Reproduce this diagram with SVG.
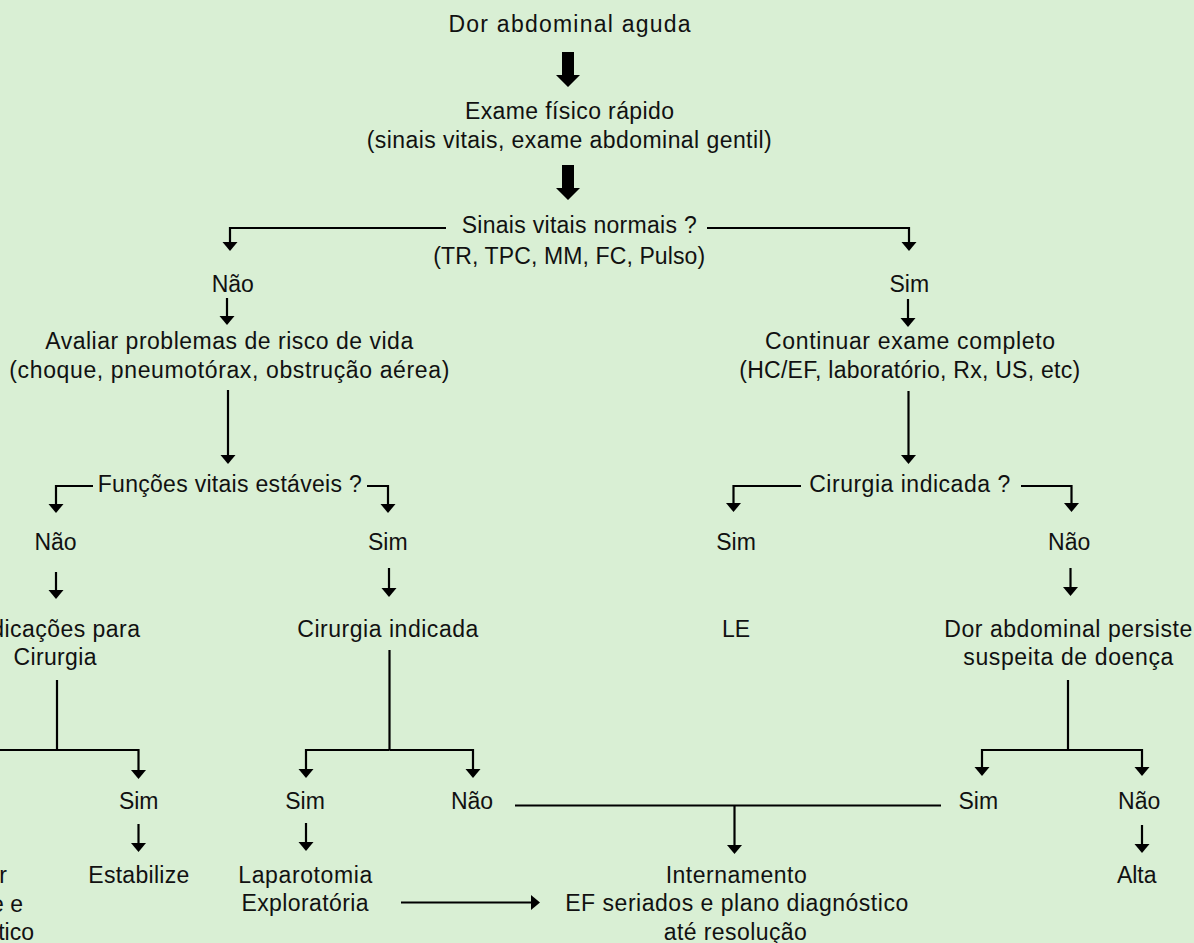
<svg xmlns="http://www.w3.org/2000/svg" width="1194" height="943" viewBox="0 0 1194 943">
<style>
text{font-family:"Liberation Sans",Arial,sans-serif;font-size:23px;fill:#111;text-anchor:middle}
.c path{fill:none;stroke:#000;stroke-width:2.2}
.a{marker-end:url(#ah)}
.big{fill:#000}
</style>
<defs>
<marker id="ah" markerUnits="userSpaceOnUse" markerWidth="10" markerHeight="16" viewBox="0 0 10 16" refX="6" refY="8" orient="auto">
<path d="M0,0.5 L9,8 L0,15.5 z" fill="#000"/>
</marker>
</defs>
<rect width="1194" height="943" fill="#d9efd4"/>
<g id="connectors" class="c">
<polygon class="big" points="562,52 574,52 574,75 580,75 568,87 556,75 562,75"/>
<polygon class="big" points="562,165 574,165 574,188 580,188 568,200 556,188 562,188"/>
<path class="a" d="M446,228 H230 V248"/>
<path class="a" d="M707,228 H909 V248"/>
<path class="a" d="M227,298 V322"/>
<path class="a" d="M228,390 V461"/>
<path class="a" d="M93,486 H56 V510"/>
<path class="a" d="M367,486 H388 V510"/>
<path class="a" d="M56,572 V596"/>
<path class="a" d="M389,568 V594"/>
<path d="M57,680 V750"/>
<path class="a" d="M0,750 H138.5 V776"/>
<path class="a" d="M138.5,824 V849"/>
<path d="M389.5,650 V750"/>
<path class="a" d="M389.5,750 H306 V775"/>
<path class="a" d="M389.5,750 H473 V775"/>
<path class="a" d="M306,823 V848"/>
<path d="M515,805.5 H941"/>
<path class="a" d="M734.5,805.5 V851"/>
<path class="a" d="M401,902.5 H537"/>
<path class="a" d="M908,299 V324"/>
<path class="a" d="M908.5,391 V461"/>
<path class="a" d="M801,486 H733.5 V509"/>
<path class="a" d="M1021,486 H1071.5 V509"/>
<path class="a" d="M1070.5,568 V593"/>
<path d="M1068,680 V750"/>
<path class="a" d="M1068,750 H982 V773"/>
<path class="a" d="M1068,750 H1142 V773"/>
<path class="a" d="M1142,825 V850"/>
</g>
<g id="n-dor"><text x="569.5" y="32" textLength="242" lengthAdjust="spacing">Dor abdominal aguda</text></g>
<g id="n-exame"><text x="569.5" y="119" textLength="209" lengthAdjust="spacing">Exame físico rápido</text><text x="569.2" y="148" textLength="405" lengthAdjust="spacing">(sinais vitais, exame abdominal gentil)</text></g>
<g id="n-sinais"><text x="579.2" y="233" textLength="235" lengthAdjust="spacing">Sinais vitais normais ?</text><text x="569.2" y="264" textLength="272" lengthAdjust="spacing">(TR, TPC, MM, FC, Pulso)</text></g>
<g id="n-nao1"><text x="232.8" y="292">Não</text></g>
<g id="n-sim1"><text x="909.3" y="292">Sim</text></g>
<g id="n-avaliar"><text x="229.2" y="349" textLength="368" lengthAdjust="spacing">Avaliar problemas de risco de vida</text><text x="229.3" y="378" textLength="440" lengthAdjust="spacing">(choque, pneumotórax, obstrução aérea)</text></g>
<g id="n-continuar"><text x="910" y="349" textLength="290" lengthAdjust="spacing">Continuar exame completo</text><text x="909.7" y="378" textLength="341" lengthAdjust="spacing">(HC/EF, laboratório, Rx, US, etc)</text></g>
<g id="n-funcoes"><text x="229.7" y="492" textLength="264" lengthAdjust="spacing">Funções vitais estáveis ?</text></g>
<g id="n-cirq"><text x="909.7" y="492" textLength="201" lengthAdjust="spacing">Cirurgia indicada ?</text></g>
<g id="n-nao2"><text x="55.5" y="550">Não</text></g>
<g id="n-sim2"><text x="387.8" y="550">Sim</text></g>
<g id="n-sim3"><text x="736" y="550">Sim</text></g>
<g id="n-nao3"><text x="1069.2" y="550">Não</text></g>
<g id="n-indic"><text x="-29" y="637" style="text-anchor:start" textLength="169" lengthAdjust="spacing">Indicações para</text><text x="55" y="665" textLength="83" lengthAdjust="spacing">Cirurgia</text></g>
<g id="n-cirind"><text x="387.8" y="637" textLength="181" lengthAdjust="spacing">Cirurgia indicada</text></g>
<g id="n-le"><text x="736" y="637">LE</text></g>
<g id="n-persiste"><text x="944.3" y="637" style="text-anchor:start" textLength="248" lengthAdjust="spacing">Dor abdominal persiste</text><text x="1068.3" y="665" textLength="210" lengthAdjust="spacing">suspeita de doença</text></g>
<g id="n-sim4"><text x="138.7" y="809">Sim</text></g>
<g id="n-sim5"><text x="305" y="809">Sim</text></g>
<g id="n-nao4"><text x="472" y="809">Não</text></g>
<g id="n-sim6"><text x="978.3" y="809">Sim</text></g>
<g id="n-nao5"><text x="1139.2" y="809">Não</text></g>
<g id="n-cut"><text x="7" y="883" style="text-anchor:end">r</text><text x="23" y="912" style="text-anchor:end">e e</text><text x="34" y="940" style="text-anchor:end">tico</text></g>
<g id="n-estab"><text x="138.8" y="883" textLength="101" lengthAdjust="spacing">Estabilize</text></g>
<g id="n-lap"><text x="305.3" y="883" textLength="134" lengthAdjust="spacing">Laparotomia</text><text x="305" y="911" textLength="127" lengthAdjust="spacing">Exploratória</text></g>
<g id="n-intern"><text x="736.2" y="883" textLength="141" lengthAdjust="spacing">Internamento</text><text x="736.7" y="911" textLength="343" lengthAdjust="spacing">EF seriados e plano diagnóstico</text><text x="735.3" y="940" textLength="143" lengthAdjust="spacing">até resolução</text></g>
<g id="n-alta"><text x="1136.7" y="883">Alta</text></g>
</svg>
